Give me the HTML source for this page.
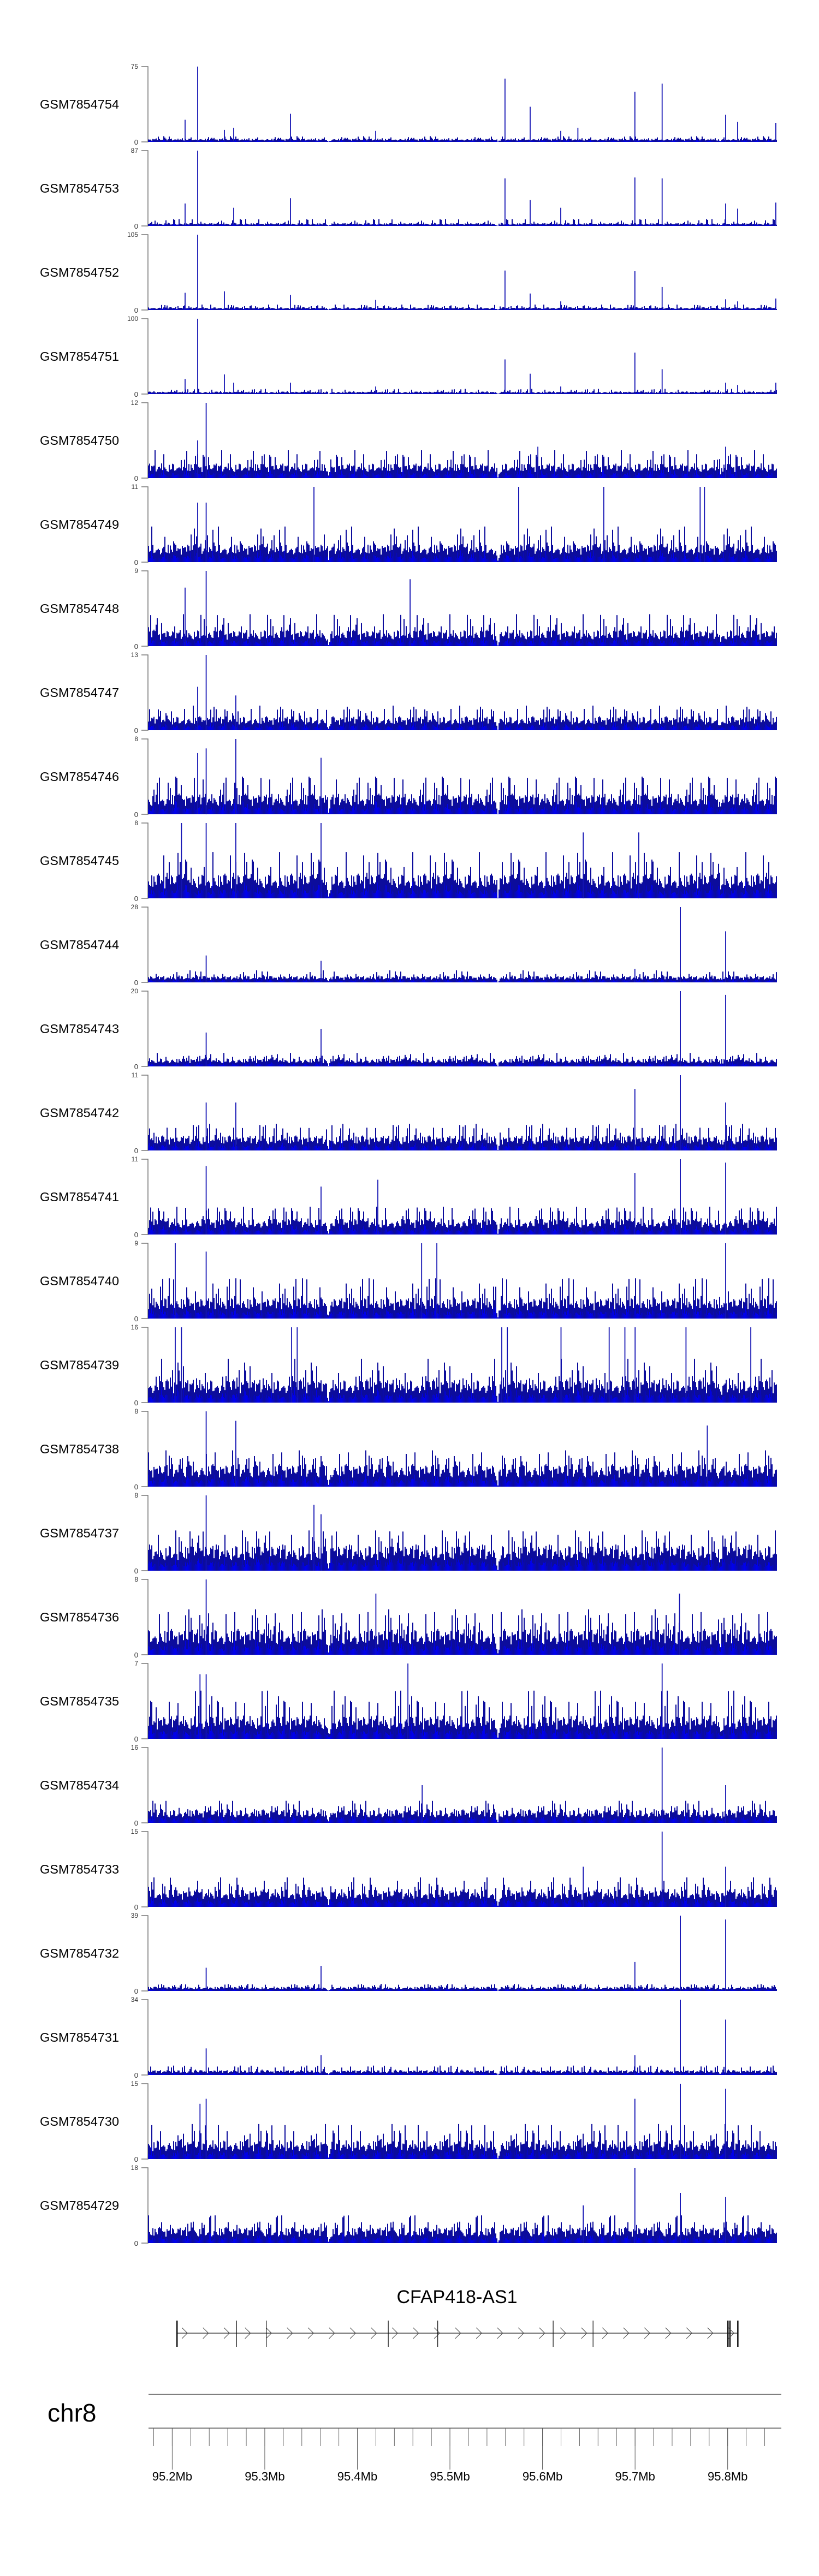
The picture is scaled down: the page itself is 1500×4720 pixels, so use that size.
<!DOCTYPE html>
<html><head><meta charset="utf-8"><style>
html,body{margin:0;padding:0;background:#fff;}
body{width:1500px;height:4720px;overflow:hidden;}
svg{display:block;font-family:"Liberation Sans",sans-serif;}
</style></head><body>
<svg id="chart" width="1500" height="4720" viewBox="0 0 1500 4720" xmlns="http://www.w3.org/2000/svg">
<g id="tracks"></g>
<g id="gene">
<text x="837" y="4220" font-size="34" text-anchor="middle" fill="#000">CFAP418-AS1</text>
</g>
<g id="axis">
<text x="87" y="4437" font-size="46" fill="#000">chr8</text>
</g>
</svg>
<script>
// ---- data ----
const sampleLabels = ["GSM7854754","GSM7854753","GSM7854752","GSM7854751","GSM7854750","GSM7854749","GSM7854748","GSM7854747","GSM7854746","GSM7854745","GSM7854744","GSM7854743","GSM7854742","GSM7854741","GSM7854740","GSM7854739","GSM7854738","GSM7854737","GSM7854736","GSM7854735","GSM7854734","GSM7854733","GSM7854732","GSM7854731","GSM7854730","GSM7854729"];
const yMaxValues = [75,87,105,100,12,11,9,13,8,8,28,20,11,11,9,16,8,8,8,7,16,15,39,34,15,18];
const baseLevels = [3,3,3.5,3,2.2,2.5,1.8,2.2,2,2.4,2.2,2,2,2.2,2.3,4.5,2.2,2.5,2.5,2,2.6,3.3,2,2,3.5,3.5];
const spikeLevels = [7,8,8,7,4.5,5.5,4,4.5,4.5,5,4.5,4,4,4.5,5,10,4,4.5,5,4.5,5,6,4,4.5,7,7];
const peakSets = [
 [[95.2275,75],[95.2139,22],[95.2564,12],[95.2664,14],[95.3278,28],[95.4198,11],[95.5595,63],[95.5867,35],[95.6197,11],[95.6382,14],[95.6998,50],[95.7292,58],[95.7978,27],[95.8108,20],[95.852,19]],
 [[95.2275,87],[95.2139,26],[95.2664,21],[95.3278,32],[95.5595,55],[95.5867,30],[95.6197,21],[95.6998,56],[95.7292,55],[95.7978,26],[95.8108,20],[95.852,27]],
 [[95.2275,105],[95.2139,24],[95.2564,26],[95.3278,21],[95.4198,14],[95.5595,55],[95.5867,23],[95.6197,12],[95.6998,54],[95.7292,32],[95.7978,15],[95.8108,12],[95.852,16]],
 [[95.2275,100],[95.2139,20],[95.2564,26],[95.2664,15],[95.3278,15],[95.4198,10],[95.5595,46],[95.5867,27],[95.6197,10],[95.6998,55],[95.7292,33],[95.7978,15],[95.8108,12],[95.852,15]],
 [[95.2367,12],[95.2275,6],[95.5950,5],[95.7978,5]],
 [[95.3531,11],[95.5742,11],[95.6662,11],[95.7703,11],[95.7750,11],[95.2275,8.7],[95.2367,8.7]],
 [[95.2367,9],[95.4570,8],[95.2139,7]],
 [[95.2367,13],[95.2275,7.5],[95.2687,6]],
 [[95.2687,8],[95.2367,7],[95.2275,6.5],[95.3608,6]],
 [[95.2367,8],[95.2687,8],[95.2100,8],[95.3608,8],[95.6440,7],[95.7040,7]],
 [[95.7489,28],[95.7978,19],[95.2367,10],[95.3608,8],[95.6998,5]],
 [[95.7489,20],[95.7978,19],[95.2367,9],[95.3608,10]],
 [[95.7489,11],[95.6998,9],[95.2367,7],[95.2687,7],[95.7978,7]],
 [[95.2367,10],[95.6998,9],[95.7489,11],[95.7978,10.5],[95.4221,8],[95.3608,7]],
 [[95.2033,9],[95.4694,9],[95.4859,9],[95.7978,9],[95.2367,8]],
 [[95.2033,16],[95.2100,16],[95.3290,16],[95.3350,16],[95.5560,16],[95.5620,16],[95.6200,16],[95.6720,16],[95.6890,16],[95.7000,16],[95.7550,16],[95.8250,16]],
 [[95.2367,8],[95.2687,7],[95.7780,6.5]],
 [[95.2367,8],[95.3531,7],[95.3608,6]],
 [[95.2367,8],[95.4200,6.5],[95.7480,6.5]],
 [[95.4546,7],[95.7292,7],[95.2367,6],[95.2300,6]],
 [[95.7292,16],[95.7978,8],[95.4700,8]],
 [[95.7292,15],[95.6440,8],[95.7978,8]],
 [[95.7489,39],[95.7978,37],[95.6998,15],[95.3608,13],[95.2367,12]],
 [[95.7489,34],[95.7978,25],[95.2367,12],[95.6998,9],[95.3608,9]],
 [[95.7489,15],[95.6998,12],[95.7978,14],[95.2367,12],[95.2300,11]],
 [[95.6998,18],[95.7489,12],[95.7978,11],[95.6440,9]]
];
const coverageGaps = [95.3691,95.5519,95.7925];
const gapDepths = [0.9,0.95,0.5];
const noiseTexture = [0.62,0.35,0.88,0.47,0.71,0.22,0.95,0.54,0.40,0.78,0.15,0.66,0.83,0.31,0.58,0.92,0.44,0.27,0.74,0.51,0.69,0.12,0.86,0.39,0.61,0.97,0.33,0.56,0.80,0.25,0.48,0.73,0.18,0.90,0.42,0.64,0.29,0.84,0.53,0.37,0.99,0.21,0.68,0.45,0.76,0.32,0.59,0.87,0.14,0.70,0.50,0.93,0.26,0.63,0.41,0.81,0.36,0.57,0.24,0.89,0.46];
const geneExons = [95.2052,95.2695,95.3016,95.4334,95.4868,95.6115,95.6546,95.8003,95.8025,95.8110];
const geneSpan = [95.2052,95.8110];
const axisMajorTicks = [95.2,95.3,95.4,95.5,95.6,95.7,95.8];
const axisTickLabels = ["95.2Mb","95.3Mb","95.4Mb","95.5Mb","95.6Mb","95.7Mb","95.8Mb"];
const axisMinorTicks = [95.18,95.20,95.22,95.24,95.26,95.28,95.30,95.32,95.34,95.36,95.38,95.40,95.42,95.44,95.46,95.48,95.50,95.52,95.54,95.56,95.58,95.60,95.62,95.64,95.66,95.68,95.70,95.72,95.74,95.76,95.78,95.80,95.82,95.84];

// ---- scales ----
const NS="http://www.w3.org/2000/svg";
const PLOT_L=271, PLOT_R=1423;
function xOf(mb){return 315.4+(mb-95.2)*1695.5;}
function mbOf(x){return 95.2+(x-315.4)/1695.5;}
function mk(tag,attrs,parent){const e=document.createElementNS(NS,tag);for(const k in attrs)e.setAttribute(k,attrs[k]);parent.appendChild(e);return e;}

const tracksG=document.getElementById('tracks');
const N=noiseTexture.length;
sampleLabels.forEach((lab,t)=>{
  const top=122+154*t, bot=top+138, H=138;
  const yMax=yMaxValues[t];
  const yOf=v=>bot-Math.min(v,yMax)/yMax*H;
  const g=mk('g',{},tracksG);
  
  
  const lt=mk('text',{x:73,y:top+69+8,'font-size':23.5,fill:'#000'},g);
  
  
  lt.textContent=lab;
  const ax=mk('path',{d:`M259 ${top}H${PLOT_L}V${bot}H259`,fill:'none',stroke:'#777','stroke-width':1.5},g);
  
  
  const t1=mk('text',{x:253,y:top+4,'font-size':12,'text-anchor':'end',fill:'#333'},g);
  
  
  t1.textContent=yMax;
  const t0=mk('text',{x:253,y:bot+5,'font-size':13,'text-anchor':'end',fill:'#333'},g);
  
  
  t0.textContent='0';
  const base=baseLevels[t], spike=spikeLevels[t];
  let d='', d2='';
  for(let i=0;i<576;i++){
    const x=PLOT_L+i*2, mb=mbOf(x+1);
    const a=noiseTexture[(i*7+t*11)%N], b=noiseTexture[(i*13+t*5+3)%N], c=noiseTexture[(i*3+t*17)%N];
    let v=base*(0.35+0.75*a);
    if(b>0.84) v=base+(spike-base)*c;
    coverageGaps.forEach((gp,k)=>{const dd=Math.abs(mb-gp); if(dd<0.003) v*=1-gapDepths[k]*(1-dd/0.003);});
    const y=yOf(v);
    d+=`M${x} ${bot}V${y.toFixed(1)}H${x+2}V${bot}Z`;
    const y2=yOf(v*0.35);
    d2+=`M${x} ${bot}V${y2.toFixed(1)}H${x+1}V${bot}Z`;
  }
  const p=mk('path',{d:d,fill:'#0c0c9c'},g);
  
  
  const p2=mk('path',{d:d2,fill:'#0000f0'},g);
  
  
  peakSets[t].forEach(pk=>{
    const x=xOf(pk[0]);
    const r=mk('rect',{x:(x-0.9).toFixed(1),y:yOf(pk[1]).toFixed(1),width:1.8,height:(bot-yOf(pk[1])).toFixed(1),fill:'#1414b4'},g);
    
    
  });
});

// ---- gene ----
const geneG=document.getElementById('gene');
const gl=mk('line',{x1:xOf(geneSpan[0]),x2:xOf(geneSpan[1]),y1:4275,y2:4275,stroke:'#444','stroke-width':1.5},geneG);


geneExons.forEach((e,i)=>{
  const w=(i===0||i>=7)?2.5:1.2;
  const l=mk('line',{x1:xOf(e),x2:xOf(e),y1:4252,y2:4300,stroke:'#111','stroke-width':w},geneG);
  
  
});
let cd='';
for(let x=xOf(geneSpan[0])+9;x<xOf(geneSpan[1])-12;x+=38.5){cd+=`M${x.toFixed(1)} 4265L${(x+10).toFixed(1)} 4275L${x.toFixed(1)} 4285`;}
const ch=mk('path',{d:cd,fill:'none',stroke:'#444','stroke-width':1},geneG);



// ---- axis ----
const axG=document.getElementById('axis');
const l1=mk('line',{x1:272,x2:1431,y1:4387,y2:4387,stroke:'#555','stroke-width':1.5},axG);


const l2=mk('line',{x1:272,x2:1431,y1:4449,y2:4449,stroke:'#555','stroke-width':1.5},axG);


axisMinorTicks.forEach(m=>{
  const l=mk('line',{x1:xOf(m),x2:xOf(m),y1:4449,y2:4482,stroke:'#666','stroke-width':1},axG);
  
  
});
axisMajorTicks.forEach((m,i)=>{
  const l=mk('line',{x1:xOf(m),x2:xOf(m),y1:4449,y2:4525,stroke:'#555','stroke-width':1},axG);
  
  
  const tx=mk('text',{x:xOf(m),y:4545,'font-size':22,'text-anchor':'middle',fill:'#000'},axG);
  
  
  tx.textContent=axisTickLabels[i];
});
</script>
</body></html>
